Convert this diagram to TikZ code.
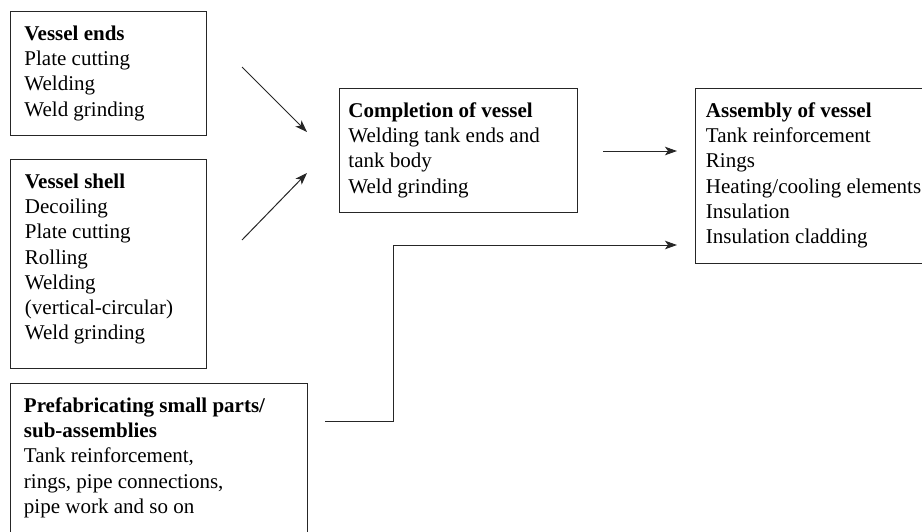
\documentclass[tikz,border=0pt]{standalone}
\usepackage{fontspec}
\setmainfont{Liberation Serif}
\usetikzlibrary{arrows.meta}
\newcommand\bxt[3]{\parbox[t][#1][t]{#2}{\rule{0pt}{29pt}#3}}
\begin{document}
\begin{tikzpicture}[x=1pt,y=-1pt,
  box/.style={draw=black!85, line width=0.9pt, anchor=north west, inner ysep=0pt,
    font=\fontsize{21pt}{25.2pt}\selectfont},
  conn/.style={line width=1pt, draw=black!85, -{Stealth[length=12pt,width=8.5pt,inset=3pt]}}]
\useasboundingbox (0,0) rectangle (922,531);
\clip (0,0) rectangle (922,531);

\node[box, inner xsep=14.5pt] (ve) at (9.5,11)
  {\bxt{124pt}{167.5pt}{\textbf{Vessel ends}\\Plate cutting\\Welding\\Weld grinding}};
\node[box, inner xsep=15pt] (vs) at (9.5,159)
  {\bxt{209pt}{166.5pt}{\textbf{Vessel shell}\\Decoiling\\Plate cutting\\Rolling\\Welding\\(vertical-circular)\\Weld grinding}};
\node[box, inner xsep=14pt] (pf) at (9.5,383)
  {\bxt{180pt}{269.5pt}{\textbf{Prefabricating small parts/}\\\textbf{sub-assemblies}\\Tank reinforcement,\\rings, pipe connections,\\pipe work and so on}};
\node[box, inner xsep=9pt] (cv) at (339,88)
  {\bxt{124pt}{220pt}{\textbf{Completion of vessel}\\Welding tank ends and\\tank body\\Weld grinding}};
\node[box, inner xsep=10.5pt] (av) at (695,88)
  {\bxt{175pt}{244pt}{\textbf{Assembly of vessel}\\Tank reinforcement\\Rings\\Heating/cooling elements\\Insulation\\Insulation cladding}};

\coordinate (a1s) at (242,67);
\coordinate (a1e) at (307,132);
\coordinate (a2s) at (242,240);
\coordinate (a2e) at (307,173);
\coordinate (a3s) at (603,151);
\coordinate (a3e) at (677,151);
\coordinate (e1) at (325,421);
\coordinate (ek) at (393,245);
\coordinate (e4) at (677,245);

\draw[conn] (a1s) -- (a1e);
\draw[conn] (a2s) -- (a2e);
\draw[conn] (a3s) -- (a3e);
\draw[conn] (e1) -| (ek) -- (e4);
\end{tikzpicture}
\end{document}
